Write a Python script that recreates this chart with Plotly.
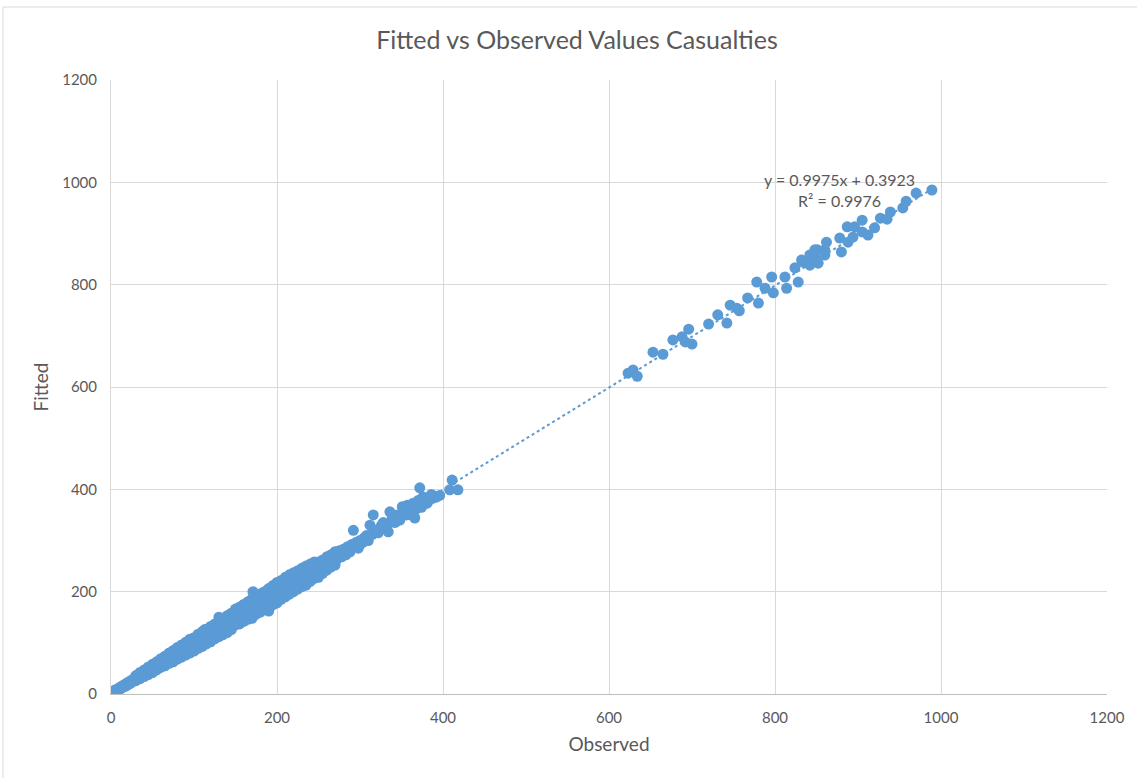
import plotly.graph_objects as go

# ---- data ----
observed_low = [2, 3, 4, 5, 5, 6, 7, 8, 8, 9, 10, 11, 12, 12, 13, 14, 15, 16, 17, 18, 19, 20,
                21, 22, 23, 24, 25, 26, 27, 28, 29, 30, 31, 32, 33, 34, 35, 36, 37, 38, 39, 40,
                41, 42, 43, 44, 45, 46, 47, 48, 49, 50]
fitted_low = [4, 6, 3, 7, 8, 5, 9, 7, 10, 8, 12, 10, 14, 11, 13, 16, 14, 18, 15, 20, 17, 22,
              19, 24, 21, 26, 23, 28, 25, 30, 27, 33, 29, 35, 31, 37, 34, 39, 36, 42, 38, 44,
              40, 46, 43, 49, 45, 51, 47, 53, 48, 54]

observed_mid1 = [52, 54, 55, 57, 58, 60, 62, 63, 65, 66, 68, 70, 71, 73, 75, 76, 78, 80, 81, 83,
                 85, 87, 88, 90, 92, 94, 95, 97, 99, 100]
fitted_mid1 = [58, 52, 60, 55, 63, 57, 68, 60, 70, 62, 73, 66, 77, 70, 80, 72, 84, 76, 86, 79,
               90, 82, 95, 86, 98, 88, 102, 93, 107, 96]

observed_mid2 = [102, 104, 105, 107, 109, 110, 112, 114, 115, 117, 119, 120, 122, 124, 126, 127,
                 129, 131, 133, 134, 136, 138, 140, 141, 143, 145, 147, 148, 150, 113, 130]
fitted_mid2 = [110, 98, 113, 101, 118, 104, 120, 108, 125, 110, 128, 113, 132, 117, 135, 120,
               139, 124, 143, 126, 147, 130, 150, 134, 155, 137, 159, 141, 162, 126, 150]

observed_mid3 = [152, 154, 156, 158, 160, 161, 163, 165, 167, 169, 170, 172, 174, 176, 178, 180,
                 182, 184, 186, 188, 190, 192, 194, 196, 198, 200, 170, 190, 171]
fitted_mid3 = [145, 168, 150, 171, 155, 175, 158, 180, 160, 184, 165, 187, 168, 190, 172, 195,
               175, 198, 178, 202, 182, 206, 186, 211, 190, 214, 148, 162, 200]

observed_mid4 = [202, 204, 206, 208, 210, 212, 214, 216, 218, 220, 222, 224, 226, 228, 230, 232,
                 234, 236, 238, 240, 242, 244, 246, 248, 250, 252, 255, 258]
fitted_mid4 = [195, 218, 198, 222, 201, 226, 205, 229, 210, 233, 214, 236, 218, 238, 222, 240,
               213, 242, 230, 245, 233, 247, 236, 250, 240, 254, 244, 258]

observed_mid5 = [260, 262, 265, 268, 270, 272, 275, 278, 280, 283, 285, 288, 290, 292, 295, 298, 300]
fitted_mid5 = [262, 250, 268, 258, 275, 263, 280, 268, 283, 272, 288, 278, 292, 320, 296, 285, 300]

observed_band = [30, 35, 40, 45, 50, 55, 60, 65, 70, 75, 80, 85, 90, 95, 100, 105, 110, 115, 120,
                 125, 130, 135, 140, 145, 150, 155, 160, 165, 170, 175, 180, 185, 190, 195, 200,
                 205, 210, 215, 220, 225, 230, 235, 240, 245, 250, 255, 260, 265, 270]
fitted_band_upper = [36, 42, 47, 53, 58, 63, 69, 74, 80, 85, 91, 96, 101, 107, 110, 117, 122, 126,
                     132, 137, 142, 148, 153, 158, 166, 170, 175, 180, 186, 190, 196, 200, 206,
                     212, 218, 222, 228, 233, 237, 241, 246, 250, 254, 258, 258, 262, 268, 272, 278]
fitted_band_lower = [26, 30, 34, 38, 42, 47, 52, 55, 60, 63, 68, 72, 76, 80, 84, 89, 93, 98, 102,
                     108, 112, 116, 120, 126, 135, 137, 142, 146, 150, 156, 160, 165, 170, 174,
                     178, 185, 190, 195, 200, 205, 210, 213, 220, 226, 228, 236, 242, 248, 252]

observed_high = [304, 308, 312, 316, 318, 322, 324, 328, 330, 334, 336, 340, 342, 345, 348, 351,
                 354, 357, 360, 362, 364, 366, 368, 370, 372, 374, 376, 378, 381, 384, 388, 390,
                 408, 411, 418]
fitted_high = [297, 310, 330, 350, 320, 315, 324, 335, 325, 317, 356, 345, 335, 350, 340, 366,
               358, 369, 355, 350, 373, 344, 362, 378, 403, 365, 385, 372, 373, 380, 383, 386,
               399, 418, 399]

observed_high_fill = [300, 305, 310, 315, 320, 326, 332, 338, 344, 350, 356, 362, 368, 374, 380,
                      386, 392, 396]
fitted_high_fill = [292, 305, 300, 312, 318, 330, 328, 340, 338, 352, 350, 362, 370, 375, 378,
                    390, 385, 388]

observed_top = [623, 629, 634, 653, 665, 677, 688, 692, 696, 700, 720, 731, 742, 746, 754, 757,
                767, 780, 778, 788, 796, 798, 812, 814, 828, 824, 832, 834, 842, 842, 848, 848,
                851, 852, 860, 862, 860, 878, 880, 887, 888, 894, 896, 905, 905, 912, 920, 927,
                935, 939, 954, 958, 970, 989]
fitted_top = [627, 633, 621, 668, 664, 692, 698, 688, 713, 684, 723, 741, 725, 760, 754, 749,
              774, 764, 805, 793, 815, 784, 815, 793, 805, 833, 848, 844, 838, 858, 868, 852,
              868, 842, 858, 883, 868, 891, 864, 913, 883, 893, 913, 926, 903, 897, 911, 930,
              928, 942, 950, 963, 979, 985]

observed = (observed_low + observed_mid1 + observed_mid2 + observed_mid3 + observed_mid4
            + observed_mid5 + observed_band + observed_band + observed_high
            + observed_high_fill + observed_top)
fitted = (fitted_low + fitted_mid1 + fitted_mid2 + fitted_mid3 + fitted_mid4
          + fitted_mid5 + fitted_band_upper + fitted_band_lower + fitted_high
          + fitted_high_fill + fitted_top)

# trendline as printed on the chart
trend_slope = 0.9975
trend_intercept = 0.3923
trend_label = "y = 0.9975x + 0.3923<br>R² = 0.9976"

tick_vals = [0, 200, 400, 600, 800, 1000, 1200]

BLUE = "#5B9BD5"
TXT = "#595959"
FONT = "Lato, sans-serif"

fig = go.Figure()

tx = [min(observed), max(observed)]
ty = [trend_slope * v + trend_intercept for v in tx]
fig.add_trace(go.Scatter(x=tx, y=ty, mode="lines",
                         line=dict(color=BLUE, width=2, dash="dot"),
                         hoverinfo="skip", showlegend=False))

fig.add_trace(go.Scatter(x=observed, y=fitted, mode="markers",
                         marker=dict(color=BLUE, size=11, line=dict(width=0)),
                         showlegend=False))

fig.add_annotation(x=878, y=985, xref="x", yref="y", text=trend_label,
                   showarrow=False, align="center",
                   font=dict(family=FONT, size=16, color=TXT))

fig.update_layout(
    width=1137, height=778,
    paper_bgcolor="white", plot_bgcolor="white",
    margin=dict(l=111, r=30, t=80, b=84),
    font=dict(family=FONT, color=TXT, size=14),
    title=dict(text="Fitted vs Observed Values Casualties", x=577 / 1137, xref="container",
               xanchor="center", y=1 - 40 / 778, yref="container", yanchor="middle",
               font=dict(family=FONT, size=25, color=TXT)),
    xaxis=dict(range=[0, 1200], tickvals=tick_vals, showgrid=True, gridcolor="#D9D9D9",
               gridwidth=1, zeroline=False, showline=True, linecolor="#BFBFBF", mirror=False,
               ticks="outside", ticklen=10, tickcolor="rgba(0,0,0,0)",
               tickfont=dict(family=FONT, size=15, color=TXT),
               title=dict(text="Observed", font=dict(family=FONT, size=19, color=TXT), standoff=12)),
    yaxis=dict(range=[0, 1200], tickvals=tick_vals, showgrid=True, gridcolor="#D9D9D9",
               gridwidth=1, zeroline=False, showline=True, linecolor="#D9D9D9",
               ticks="outside", ticklen=10, tickcolor="rgba(0,0,0,0)",
               tickfont=dict(family=FONT, size=15, color=TXT),
               title=dict(text="Fitted", font=dict(family=FONT, size=19, color=TXT), standoff=8)),
)

# chart-area border (top and left visible in the reference)
bx = (3 - 111) / 996
by = (694 - 7) / 614
fig.add_shape(type="line", xref="paper", yref="paper", x0=bx, x1=1.05, y0=by, y1=by,
              line=dict(color="#D9D9D9", width=1))
fig.add_shape(type="line", xref="paper", yref="paper", x0=bx, x1=bx, y0=by, y1=-0.16,
              line=dict(color="#D9D9D9", width=1))

fig.write_html("out.html", config={"displayModeBar": False},
               post_script="document.body.style.margin='0';")
